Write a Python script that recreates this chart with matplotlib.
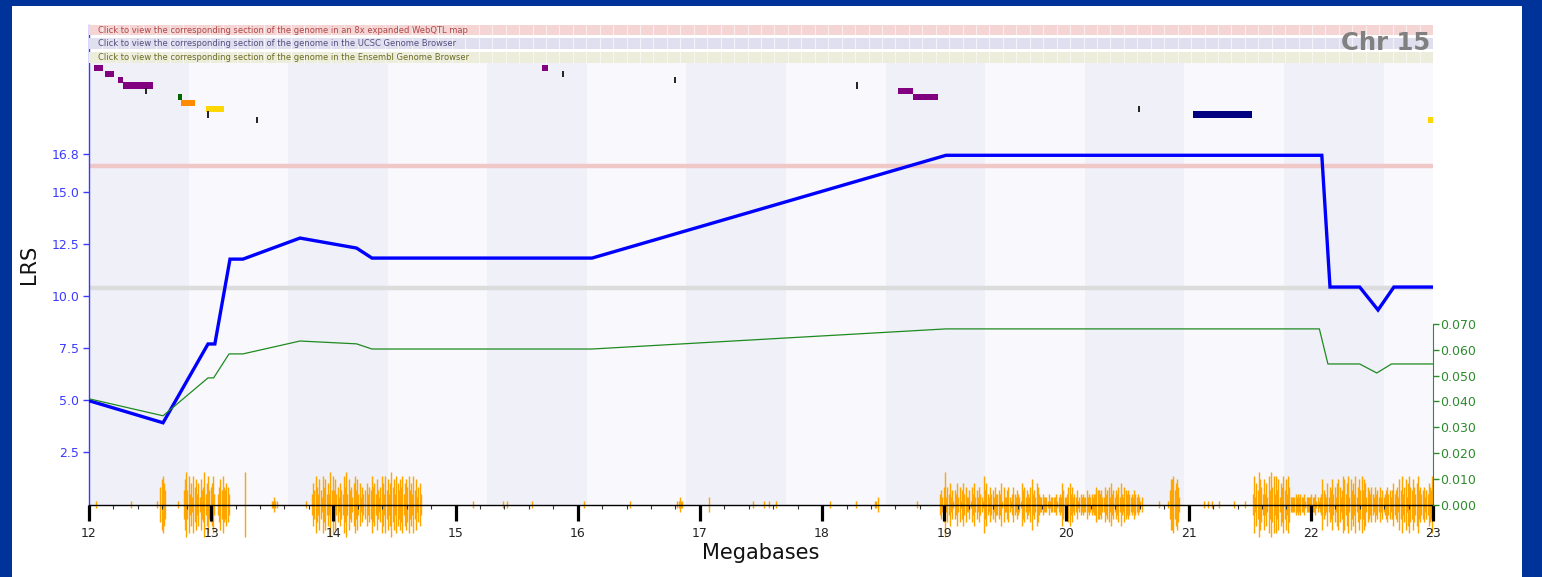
import numpy as np
import matplotlib
matplotlib.use("Agg")
import matplotlib.pyplot as plt
from matplotlib.patches import Rectangle

# LRS scan (blue) and additive effect (green)
lrs_mb = [12.0, 12.606, 12.974, 13.03, 13.154, 13.26, 13.727, 14.19, 14.316, 16.117,
          19.014, 22.09, 22.157, 22.40, 22.55, 22.68, 23.0]
lrs_val = [4.98, 3.92, 7.70, 7.70, 11.77, 11.77, 12.78, 12.30, 11.82, 11.82,
           16.75, 16.75, 10.43, 10.43, 9.33, 10.43, 10.43]
add_mb = [12.0, 12.606, 12.974, 13.02, 13.146, 13.26, 13.727, 14.19, 14.316, 16.117,
          19.014, 22.07, 22.14, 22.40, 22.54, 22.66, 23.0]
add_val = [0.0410, 0.0344, 0.0491, 0.0491, 0.0584, 0.0584, 0.0634, 0.0623, 0.0603, 0.0603,
           0.0681, 0.0681, 0.0545, 0.0545, 0.0510, 0.0545, 0.0545]

suggestive = 10.40
significant = 16.24

# gene track
gene_start = [12.041, 12.131, 12.237, 12.278, 12.728, 12.753, 12.958, 15.708, 18.621, 18.744, 21.036, 22.955]
gene_end = [12.115, 12.205, 12.278, 12.524, 12.761, 12.868, 13.105, 15.757, 18.744, 18.949, 21.519, 23.0]
gene_row = [0, 1, 2, 3, 5, 6, 7, 0, 4, 5, 8, 9]
gene_color = ['#800080', '#800080', '#800080', '#800080', '#006400', '#ff8c00', '#ffd700',
              '#800080', '#800080', '#800080', '#000080', '#ffd700']
mark_pos = [12.467, 12.974, 13.375, 15.880, 16.796, 18.286, 20.594]
mark_row = [4, 8, 9, 1, 2, 3, 7]

# SNP density, one digit per 0.01 Mb, one string per megabase (12 .. 22)
snp_levels = [
    "0000010000 0000000000 0000000000 0000100000 0000000000 0000010057 8640000000 0010000479 4836285736 2745936845",
    "6830035748 5465300000 0000000900 0000000000 0000000001 1211000000 0000000000 0000000100 0036485374 2857363948",
    "4735264385 9374526847 3625340635 4856374258 6384736957 3864758367 5846384725 6300000000 0000000000 0000000000",
    "0000000000 0000100000 0000000000 0000000010 0010000000 0000000000 0010000000 0000000000 0000000000 0000000000",
    "0000010000 0000000000 0000000000 0000000000 0010000000 0000000000 0000000000 0000000000 0112110000 0000000000",
    "0000000200 0000000000 0000000000 0000000000 0001000000 0010001000 0010000000 0000000000 0000000000 0000000000",
    "0000001000 0000000000 0000000100 0000000000 0001120000 0000000000 0000000000 0000000100 0000000000 0000003425",
    "9253624143 6251463522 4153624253 2184632534 2533436152 2452135324 3216452432 5734265322 3222131222 2312326422",
    "3563523241 2323224232 3233544342 2534526342 4352632543 4323243232 1200000000 0000010000 0001477846 7520000000",
    "0000000000 0010010001 0000100000 0000000100 0000001000 0038264975 3736284958 3847265847 3852222323 2322312222",
    "3223121237 4326254735 2675248736 8274638257 4847625435 3253425242 3453424634 5274835726 8547536845 3452436548",
]
snp_unit = 0.172  # LRS units per level

W, H = 1542, 577
fig = plt.figure(figsize=(W / 100, H / 100), dpi=100, facecolor='#003399')
fig.patches.append(Rectangle((12 / W, 0), (1522 - 12) / W, (H - 6) / H,
                             transform=fig.transFigure, facecolor='white',
                             edgecolor='none', zorder=-10))

ybot, ytop = 504.5, 25
ax = fig.add_axes([89 / W, (H - ybot) / H, (1433 - 89) / W, (ybot - ytop) / H])
ax.set_xlim(12, 23)
ax.set_ylim(0, 23.0)
ax.set_facecolor('white')

# alternating background bands
band_w = 0.815
edges = list(np.arange(12, 23, band_w)) + [23]
band_top = (ybot - 62) / (ybot - ytop)
for i in range(len(edges) - 1):
    c = '#eff0f8' if i % 2 == 0 else '#f8f8fd'
    ax.axvspan(edges[i], edges[i + 1], ymin=0, ymax=band_top, color=c, lw=0, zorder=0)

ax.axhline(significant, color='#f0c8c8', lw=3.2, zorder=1)
ax.axhline(suggestive, color='#dcdcdc', lw=3.2, zorder=1)

# SNP density bars
snp_x, snp_h = [], []
for k, s in enumerate(snp_levels):
    s = s.replace(' ', '')
    for j, ch in enumerate(s):
        v = int(ch)
        if v > 0:
            snp_x.append(12 + k + 0.005 + j * 0.01)
            snp_h.append(v * snp_unit)
snp_x = np.array(snp_x)
snp_h = np.array(snp_h)
ax.vlines(snp_x, -snp_h, snp_h, color='#ffa500', lw=1.0, zorder=1.5, clip_on=False)

ax.plot(lrs_mb, lrs_val, color='#0000ff', lw=2.4, zorder=4, solid_joinstyle='miter')

# axes styling
for sp in ['top', 'right']:
    ax.spines[sp].set_visible(False)
ax.spines['left'].set_color('#3b3bff')
ax.spines['left'].set_linewidth(1)
ax.spines['bottom'].set_color('black')
ax.spines['bottom'].set_linewidth(1)

ax.set_yticks([2.5, 5.0, 7.5, 10.0, 12.5, 15.0, 16.8])
ax.set_yticklabels(['2.5', '5.0', '7.5', '10.0', '12.5', '15.0', '16.8'])
ax.tick_params(axis='y', colors='#3b3bff', labelsize=9, length=4, width=1, pad=3)
ax.set_ylabel('LRS', fontsize=15, color='#111111', labelpad=9)

ax.set_xticks(range(12, 24))
ax.set_xticks(np.arange(12, 23.01, 0.2), minor=True)
ax.tick_params(axis='x', which='major', length=11.5, width=2.3, color='black',
               labelsize=9, labelcolor='#222222', pad=5)
ax.tick_params(axis='x', which='minor', length=3, width=0.8, color='#333333')
ax.set_xlabel('Megabases', fontsize=15, color='#111111', labelpad=2)

# additive effect axis
ax2 = ax.twinx()
ax2.set_ylim(0, (ybot - ytop) / ((ybot - 324) / 0.07))
ax2.patch.set_visible(False)
for sp in ['top', 'left', 'bottom']:
    ax2.spines[sp].set_visible(False)
ax2.spines['right'].set_color('#2e8b2e')
ax2.spines['right'].set_bounds(0, 0.07)
ax2.set_yticks(np.arange(0, 0.0701, 0.01))
ax2.set_yticklabels(['%.3f' % v for v in np.arange(0, 0.0701, 0.01)])
ax2.tick_params(axis='y', colors='#2e8b2e', labelsize=9, length=4, width=1, pad=1)
ax2.plot(add_mb, add_val, color='#1f8a1f', lw=0.9, zorder=3)

# header + gene track overlay (pixel-like units)
tr = fig.add_axes([89 / W, (H - 125) / H, (1433 - 89) / W, 100 / H])
tr.set_xlim(12, 23)
tr.set_ylim(100, 0)
tr.axis('off')
tr.patch.set_visible(False)

headers = [(0, 10.5, '#f5d4d4', '#b04848',
            'Click to view the corresponding section of the genome in an 8x expanded WebQTL map'),
           (13, 11.5, '#dfdfef', '#505080',
            'Click to view the corresponding section of the genome in the UCSC Genome Browser'),
           (26.5, 11.5, '#ededdc', '#6b6b22',
            'Click to view the corresponding section of the genome in the Ensembl Genome Browser')]
for y0, hh, bg, fg, txt in headers:
    tr.add_patch(Rectangle((12, y0), 11, hh, facecolor=bg, edgecolor='none', zorder=1))
    tr.vlines(np.arange(12.11, 23, 0.11), y0, y0 + hh, color='white', lw=0.8, alpha=0.6, zorder=2)
    tr.text(12.075, y0 + hh / 2, txt, fontsize=6.0, color=fg, va='center', ha='left', zorder=3)

tr.text(22.98, 18.5, 'Chr 15', fontsize=17.5, fontweight='bold', color='#808080',
        ha='right', va='center', zorder=4)

for s, e, r, c in zip(gene_start, gene_end, gene_row, gene_color):
    tr.add_patch(Rectangle((s, 40 + 5.8 * r), e - s, 6.3, facecolor=c, edgecolor='none', zorder=3))
for p, r in zip(mark_pos, mark_row):
    tr.vlines(p, 40 + 5.8 * r, 40 + 5.8 * r + 6.3, color='#111111', lw=1.3, zorder=3)

fig.savefig('out.png', dpi=100, facecolor=fig.get_facecolor())
